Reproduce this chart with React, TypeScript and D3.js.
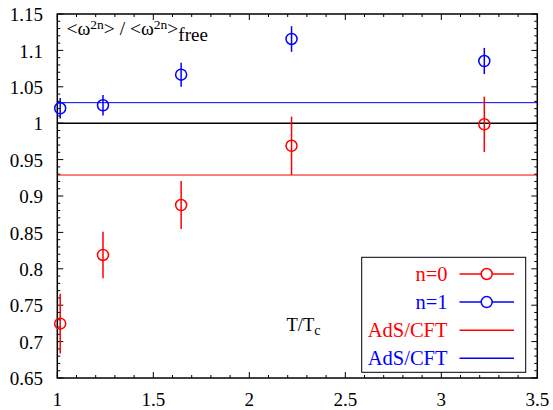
import React from "react";
import * as d3 from "d3";

const n0T = [1.015, 1.238, 1.645, 2.22, 3.224];
const n0V = [0.7246, 0.819, 0.8876, 0.969, 0.9985];
const n0E = [0.041, 0.032, 0.033, 0.04, 0.038];
const n1T = [1.015, 1.238, 1.645, 2.22, 3.224];
const n1V = [1.0205, 1.0246, 1.0667, 1.1157, 1.0854];
const n1E = [0.014, 0.014, 0.0165, 0.0176, 0.018];
const adsN0 = 0.9288;
const adsN1 = 1.0282;
const xTicks = [1, 1.5, 2, 2.5, 3, 3.5];
const yTicks = [0.65, 0.7, 0.75, 0.8, 0.85, 0.9, 0.95, 1, 1.05, 1.1, 1.15];
const legendLabels = ["n=0", "n=1", "AdS/CFT", "AdS/CFT"];

const W = 553, H = 410;
const L = 57.3, R = 537.3, T = 14, B = 378;
const RED = "#ff0000", BLUE = "#0000ff";
const FONT = "Liberation Serif";

export default function App() {
  const x = d3.scaleLinear().domain([1, 3.5]).range([L, R]);
  const y = d3.scaleLinear().domain([0.65, 1.15]).range([B, T]);
  const xMinor = d3.range(10, 36).map((v) => v / 10);
  const yMinor = d3.range(65, 116).map((v) => v / 100);
  const fs = (size: number) => ({ fontFamily: FONT, fontSize: size });

  const series = [
    { t: n0T, v: n0V, e: n0E, c: RED },
    { t: n1T, v: n1V, e: n1E, c: BLUE },
  ];
  const legendColors = [RED, BLUE, RED, BLUE];
  const lx0 = 361.7, ly0 = 257.3, lx1 = 525.7, ly1 = 372.3;

  return (
    <svg width={W} height={H} style={{ position: "absolute", left: 0, top: 0, background: "#fff" }}>
      <line x1={L} x2={R} y1={y(1)} y2={y(1)} stroke="#000" strokeWidth={1.5} />
      <line x1={L} x2={R} y1={y(adsN0)} y2={y(adsN0)} stroke={RED} strokeWidth={1} />
      <line x1={L} x2={R} y1={y(adsN1)} y2={y(adsN1)} stroke={BLUE} strokeWidth={1} />
      {xMinor.map((v, i) => {
        const major = xTicks.some((t) => Math.abs(t - v) < 1e-6);
        const len = major ? 6 : 3;
        return (
          <g key={"xm" + i}>
            <line x1={x(v)} x2={x(v)} y1={B} y2={B - len} stroke="#000" strokeWidth={1} />
            <line x1={x(v)} x2={x(v)} y1={T} y2={T + len} stroke="#000" strokeWidth={1} />
          </g>
        );
      })}
      {yMinor.map((v, i) => {
        const major = yTicks.some((t) => Math.abs(t - v) < 1e-6);
        const len = major ? 6 : 3;
        return (
          <g key={"ym" + i}>
            <line x1={L} x2={L + len} y1={y(v)} y2={y(v)} stroke="#000" strokeWidth={1} />
            <line x1={R} x2={R - len} y1={y(v)} y2={y(v)} stroke="#000" strokeWidth={1} />
          </g>
        );
      })}
      <rect x={L} y={T} width={R - L} height={B - T} fill="none" stroke="#000" strokeWidth={1.5} />
      {xTicks.map((v) => (
        <text key={"xl" + v} x={x(v)} y={405.5} textAnchor="middle" style={fs(19)}>
          {String(v)}
        </text>
      ))}
      {yTicks.map((v) => (
        <text key={"yl" + v} x={43} y={y(v) + 7.2} textAnchor="end" style={fs(19)}>
          {String(v)}
        </text>
      ))}
      {series.map((s, si) => (
        <g key={"s" + si}>
          {s.t.map((t, i) => (
            <g key={i}>
              <line x1={x(t)} x2={x(t)} y1={y(s.v[i] - s.e[i])} y2={y(s.v[i] + s.e[i])} stroke={s.c} strokeWidth={1.5} />
              <circle cx={x(t)} cy={y(s.v[i])} r={5.5} fill="none" stroke={s.c} strokeWidth={1.5} />
            </g>
          ))}
        </g>
      ))}
      <text x={66.5} y={34.7} style={fs(19.5)}>
        {"<ω"}
        <tspan dy={-6} fontSize={13.5}>2n</tspan>
        <tspan dy={6}>{"> / <ω"}</tspan>
        <tspan dy={-6} fontSize={13.5}>2n</tspan>
        <tspan dy={6}>{">"}</tspan>
        <tspan dy={6} fontSize={19}>free</tspan>
      </text>
      <text x={286.5} y={330.5} style={fs(18.5)}>
        T/T<tspan dy={4} fontSize={14}>c</tspan>
      </text>
      <rect x={lx0} y={ly0} width={lx1 - lx0} height={ly1 - ly0} fill="#fff" stroke="#000" strokeWidth={1} />
      {legendLabels.map((lab, i) => {
        const ry = 274 + i * 28.1;
        return (
          <g key={"lg" + i}>
            <text x={447.5} y={ry + 6.5} textAnchor="end" style={{ ...fs(20.5), fill: legendColors[i] }}>
              {lab}
            </text>
            <line x1={459.5} x2={514} y1={ry} y2={ry} stroke={legendColors[i]} strokeWidth={1.5} />
            {i < 2 && <circle cx={486.7} cy={ry} r={5.5} fill="#fff" stroke={legendColors[i]} strokeWidth={1.5} />}
          </g>
        );
      })}
    </svg>
  );
}
